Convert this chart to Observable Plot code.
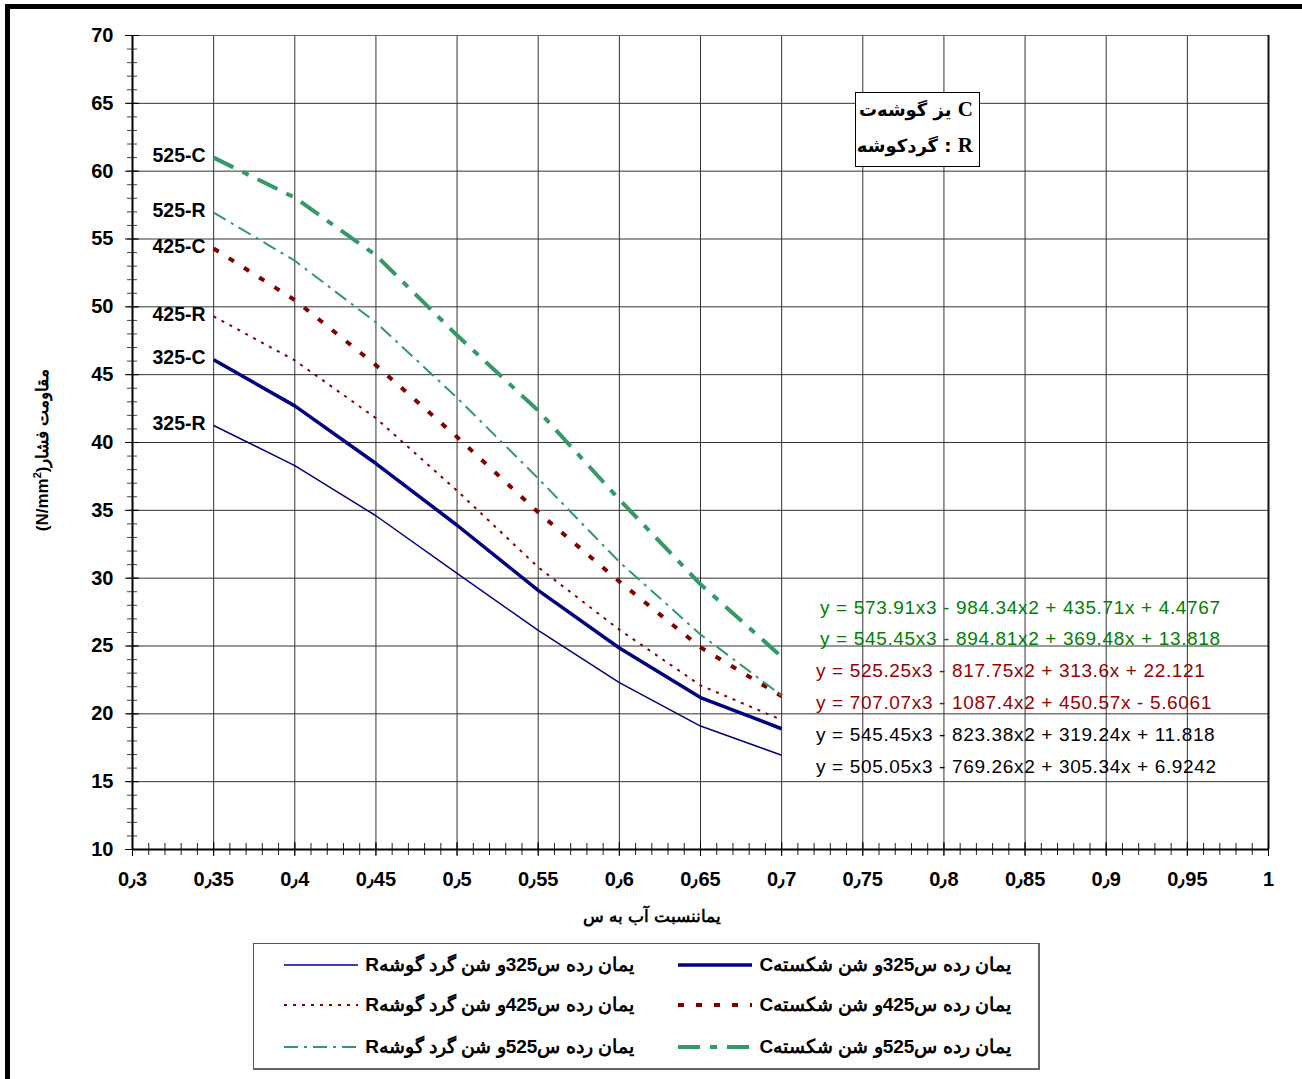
<!DOCTYPE html>
<html>
<head>
<meta charset="utf-8">
<script src="https://cdn.jsdelivr.net/npm/d3@7"></script>
<script src="https://cdn.jsdelivr.net/npm/@observablehq/plot@0.6"></script>
<style>
  html, body { margin: 0; padding: 0; background: #fff; }
  #page { position: relative; width: 1302px; height: 1079px; overflow: hidden; font-family: "Liberation Sans", Arial, sans-serif; }
  #frameTop { position: absolute; left: 5px; top: 4px; width: 1297px; height: 5px; background: #000; }
  #frameLeft { position: absolute; left: 5px; top: 4px; width: 5px; height: 1075px; background: #000; }
  #chart { position: absolute; left: 0; top: 0; }
  .eq { position: absolute; font-size: 19px; letter-spacing: 0.65px; line-height: 20px; white-space: nowrap; }
  #key { position: absolute; left: 855px; top: 92px; width: 123px; height: 73px; border: 1.5px solid #000; background: #fff; }
  #key div { position: absolute; right: 6px; font-weight: bold; font-size: 18px; line-height: 22px; white-space: nowrap; direction: rtl; font-family: "DejaVu Sans", sans-serif; }
  #key b { font-family: "Liberation Serif", "Times New Roman", serif; font-size: 21px; }
  #ytitle { position: absolute; left: 42px; top: 450px; transform: translate(-50%, -50%) rotate(-90deg); font-weight: bold; font-size: 17px; white-space: nowrap; direction: rtl; }
  #xtitle { position: absolute; left: 652px; top: 916px; transform: translate(-50%, -50%); font-weight: bold; font-size: 17px; white-space: nowrap; direction: rtl; }
  #legend { position: absolute; left: 253px; top: 943px; width: 784px; height: 124px; border: 1.5px solid #555; border-right: 2.5px solid #666; border-bottom: 2.5px solid #666; background: #fff; }
  .lg { position: absolute; font-weight: bold; font-size: 19px; line-height: 22px; white-space: nowrap; direction: rtl; transform: translateY(-50%); }
  .lgs { position: absolute; transform: translateY(-50%); }
</style>
</head>
<body>
<div id="page">
  <div id="chart"></div>
  <div id="frameTop"></div>
  <div id="frameLeft"></div>
</div>
<script>
// ---- data ----
const xRatio = [0.35, 0.4, 0.45, 0.5, 0.55, 0.6, 0.65, 0.7];
const s325R = [41.25, 38.3, 34.6, 30.35, 26.15, 22.3, 19.1, 16.95];
const s325C = [46.1, 42.7, 38.45, 33.9, 29.1, 24.85, 21.2, 18.9];
const s425R = [49.3, 46.05, 41.8, 36.45, 30.8, 26.2, 22.1, 19.55];
const s425C = [54.3, 50.5, 45.7, 40.4, 34.85, 29.75, 24.9, 21.3];
const s525R = [56.95, 53.4, 48.85, 43.3, 37.35, 31.2, 25.85, 21.35];
const s525C = [61.0, 58.05, 53.8, 47.9, 42.35, 35.8, 29.55, 24.2];

const seriesNames = ["325-R", "325-C", "425-R", "425-C", "525-R", "525-C"];
const seriesValues = [s325R, s325C, s425R, s425C, s525R, s525C];

const xTicks = [0.3, 0.35, 0.4, 0.45, 0.5, 0.55, 0.6, 0.65, 0.7, 0.75, 0.8, 0.85, 0.9, 0.95, 1];
const xTickLabels = ["0٫3", "0٫35", "0٫4", "0٫45", "0٫5", "0٫55", "0٫6", "0٫65", "0٫7", "0٫75", "0٫8", "0٫85", "0٫9", "0٫95", "1"];
const yTicks = [10, 15, 20, 25, 30, 35, 40, 45, 50, 55, 60, 65, 70];

const equations = [
  "y = 573.91x3 - 984.34x2 + 435.71x + 4.4767",
  "y = 545.45x3 - 894.81x2 + 369.48x + 13.818",
  "y = 525.25x3 - 817.75x2 + 313.6x + 22.121",
  "y = 707.07x3 - 1087.4x2 + 450.57x - 5.6061",
  "y = 545.45x3 - 823.38x2 + 319.24x + 11.818",
  "y = 505.05x3 - 769.26x2 + 305.34x + 6.9242"
];

const legendLabels = {
  "325-C": "یمان رده س325و شن شکستهC",
  "325-R": "یمان رده س325و شن گرد گوشهR",
  "425-C": "یمان رده س425و شن شکستهC",
  "425-R": "یمان رده س425و شن گرد گوشهR",
  "525-C": "یمان رده س525و شن شکستهC",
  "525-R": "یمان رده س525و شن گرد گوشهR"
};

// ---- styles ----
const NAVY = "#000080", RED = "#800000", GREEN = "#339966";
const styles = {
  "325-R": {stroke: NAVY, strokeWidth: 1.5, dash: null},
  "325-C": {stroke: NAVY, strokeWidth: 3.5, dash: null},
  "425-R": {stroke: RED, strokeWidth: 2, dash: "3,6"},
  "425-C": {stroke: RED, strokeWidth: 4, dash: "6,12"},
  "525-R": {stroke: GREEN, strokeWidth: 2, dash: "14,6,3,6"},
  "525-C": {stroke: GREEN, strokeWidth: 4, dash: "22,10,7,10"}
};
const eqColors = ["#008000", "#008000", "#990000", "#990000", "#000", "#000"];

const rows = [];
seriesNames.forEach((name, i) => xRatio.forEach((x, j) => rows.push({series: name, x, y: seriesValues[i][j]})));
const firstPoints = seriesNames.map((name, i) => ({series: name, x: xRatio[0], y: seriesValues[i][0]}));

const minorX = d3.range(30, 101).map(d => d / 100);
const minorY = d3.range(10, 71);

const lineMarks = seriesNames.map(name => Plot.line(rows.filter(r => r.series === name), {
  x: "x", y: "y",
  stroke: styles[name].stroke,
  strokeWidth: styles[name].strokeWidth,
  strokeDasharray: styles[name].dash,
  strokeLinecap: "butt",
  strokeLinejoin: "round",
  curve: "linear"
}));

const chart = Plot.plot({
  width: 1302,
  height: 940,
  marginLeft: 132,
  marginRight: 34,
  marginTop: 35,
  marginBottom: 91,
  x: {domain: [0.3, 1]},
  y: {domain: [10, 70]},
  style: {fontFamily: "'Liberation Sans', Arial, sans-serif", background: "transparent", color: "#000"},
  marks: [
    Plot.gridX(xTicks.slice(1, -1), {stroke: "#333", strokeOpacity: 1, strokeWidth: 1}),
    Plot.gridY(yTicks.slice(1, -1), {stroke: "#333", strokeOpacity: 1, strokeWidth: 1}),
    Plot.ruleY([70], {stroke: "#666", strokeWidth: 1}),
    Plot.ruleX([1], {stroke: "#111", strokeWidth: 2}),
    // y axis minor & major ticks (straddling the axis)
    Plot.axisY(minorY, {tickSize: 10, dx: 5, tickFormat: () => "", label: null, stroke: "#444"}),
    Plot.axisY(yTicks, {tickSize: 14, dx: 7, tickFormat: () => "", label: null, stroke: "#000"}),
    Plot.axisY(yTicks, {tickSize: 0, tickPadding: 19, fontSize: 20, fontWeight: "bold", label: null}),
    // x axis minor & major ticks
    Plot.axisX(minorX, {tickSize: 12, dy: -6, tickFormat: () => "", label: null, stroke: "#222"}),
    Plot.axisX(xTicks, {tickSize: 14, dy: -7, tickFormat: () => "", label: null, stroke: "#000"}),
    Plot.axisX(xTicks, {tickSize: 0, tickPadding: 22, fontSize: 20, fontWeight: "bold", label: null,
      tickFormat: d => xTickLabels[xTicks.indexOf(d)] ?? ""}),
    Plot.ruleX([0.3], {stroke: "#000", strokeWidth: 2}),
    Plot.ruleY([10], {stroke: "#000", strokeWidth: 2}),
    ...lineMarks,
    Plot.text(firstPoints, {x: "x", y: "y", text: "series", textAnchor: "end", dx: -8, dy: -2,
      fontSize: 19.5, fontWeight: "bold", fill: "#000"})
  ]
});
document.getElementById("chart").appendChild(chart);

const page = document.getElementById("page");

// equations (trendline annotations)
const eqPos = [[820, 608], [820, 639], [816, 671], [816, 703], [816, 735], [816, 767]];
equations.forEach((t, i) => {
  const d = document.createElement("div");
  d.className = "eq";
  d.style.left = eqPos[i][0] + "px";
  d.style.top = (eqPos[i][1] - 10) + "px";
  d.style.color = eqColors[i];
  d.textContent = t;
  page.appendChild(d);
});

// key box
const key = document.createElement("div");
key.id = "key";
key.innerHTML = '<div style="top:5px"><b>C</b> یز گوشه‌ت</div><div style="top:41px"><b>R</b> : گردکوشه</div>';
page.appendChild(key);

// axis titles
const yt = document.createElement("div");
yt.id = "ytitle";
yt.innerHTML = "مقاومت فشار(N/mm<sup style='font-size:11px'>2</sup>)";
page.appendChild(yt);
const xt = document.createElement("div");
xt.id = "xtitle";
xt.textContent = "یماننسبت آب به س";
page.appendChild(xt);

// legend
const legend = document.createElement("div");
legend.id = "legend";
page.appendChild(legend);
const legendLayout = [
  ["325-C", 1, 0], ["325-R", 0, 0],
  ["425-C", 1, 1], ["425-R", 0, 1],
  ["525-C", 1, 2], ["525-R", 0, 2]
];
const rowY = [21, 61, 103];
legendLayout.forEach(([name, col, row]) => {
  const st = styles[name];
  const sx = col === 1 ? 424 : 30;
  const textRight = col === 1 ? 27 : 404;
  const sw = 74;
  const svg = d3.create("svg").attr("width", sw).attr("height", 10).attr("class", "lgs")
    .style("left", sx + "px").style("top", rowY[row] + "px");
  svg.append("line").attr("x1", 0).attr("x2", sw).attr("y1", 5).attr("y2", 5)
    .attr("stroke", st.stroke).attr("stroke-width", st.strokeWidth)
    .attr("stroke-dasharray", st.dash);
  legend.appendChild(svg.node());
  const t = document.createElement("div");
  t.className = "lg";
  t.style.right = textRight + "px";
  t.style.top = rowY[row] + "px";
  t.textContent = legendLabels[name];
  legend.appendChild(t);
});
</script>
</body>
</html>
